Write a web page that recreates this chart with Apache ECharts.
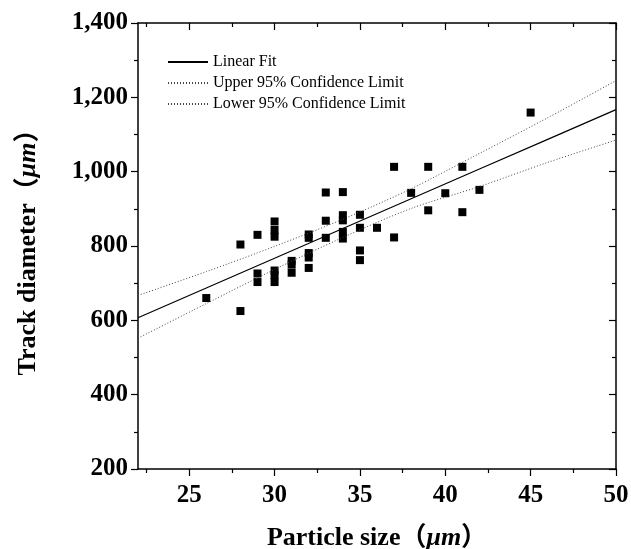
<!DOCTYPE html>
<html lang="en">
<head>
    <meta charset="UTF-8">
    <title>Track diameter vs particle size</title>
    <script src="https://cdn.jsdelivr.net/npm/echarts@6/dist/echarts.min.js"></script>
    <style>
        * { margin: 0; padding: 0; }
        html, body { width: 100%; height: 100%; overflow: hidden; background: #fff; }
        .box { width: 631px; height: 549px; }
    </style>
</head>
<body>
<div class="box"></div>
<script>
    // measured points
    let particleSize = [26, 28, 28, 29, 29, 29, 30, 30, 30, 30, 30, 30, 31, 31, 31,
        32, 32, 32, 32, 32, 33, 33, 33, 34, 34, 34, 34, 34, 35, 35, 35, 35, 36,
        37, 37, 38, 39, 39, 40, 41, 41, 42, 45];
    let trackDiameter = [660, 625, 804, 830, 726, 703, 866, 843, 825, 734, 722, 703, 760, 750, 728,
        831, 822, 781, 769, 741, 944, 868, 822, 945, 883, 869, 838, 820, 884, 849, 788, 762, 849,
        1013, 823, 943, 1013, 896, 942, 1013, 891, 951, 1159];

    // fit and confidence limits
    let lineX = [22, 26, 30, 34, 38, 42, 46, 50];
    let linearFit = [607, 687, 767, 847, 927, 1007, 1087, 1167];
    let upperLimit = [667, 731, 799, 872, 954, 1049, 1145, 1245];
    let lowerLimit = [552, 645, 737, 823, 901, 960, 1025, 1085];

    let xMajor = [25, 30, 35, 40, 45, 50];
    let xMinor = [22.5, 27.5, 32.5, 37.5, 42.5, 47.5];

    let chart = echarts.init(document.querySelector('.box'));
    let serif = "'Liberation Serif', 'Noto Sans CJK SC'";
    let black = '#000';

    let pair = (xs, ys) => xs.map((x, i) => [x, ys[i]]);

    function xAxisOf(pos, ticks, len, inside, labels, line) {
        return {
            type: 'value', position: pos, min: 22, max: 50,
            axisLine: { show: line, onZero: false, lineStyle: { color: black, width: 1.5 } },
            axisTick: { show: true, customValues: ticks, inside: inside, length: len,
                lineStyle: { color: black, width: 1.2 } },
            axisLabel: { show: labels, customValues: xMajor, margin: 14,
                fontFamily: serif, fontWeight: 'bold', fontSize: 25, color: black },
            splitLine: { show: false }
        };
    }

    let nameStyle = {
        rich: {
            a: { fontFamily: serif, fontWeight: 'bold', fontSize: 26, color: black },
            b: { fontFamily: serif, fontWeight: 'bold', fontStyle: 'italic', fontSize: 26, color: black }
        }
    };

    let xAxis = [
        xAxisOf('bottom', xMajor, 7, false, true, true),
        xAxisOf('bottom', xMinor, 4, false, false, false),
        xAxisOf('top', xMajor, 7, true, false, true),
        xAxisOf('top', xMinor, 4, true, false, false)
    ];
    xAxis[0].name = '{a|Particle size（}{b|μm}{a|）}';
    xAxis[0].nameLocation = 'middle';
    xAxis[0].nameGap = 56;
    xAxis[0].nameTextStyle = nameStyle;

    function yAxisOf(pos, inside, labels) {
        return {
            type: 'value', position: pos, min: 200, max: 1400, interval: 200,
            axisLine: { show: true, onZero: false, lineStyle: { color: black, width: 1.5 } },
            axisTick: { show: true, inside: inside, length: 7, lineStyle: { color: black, width: 1.2 } },
            minorTick: { show: true, splitNumber: 2, length: 4, lineStyle: { color: black, width: 1.2 } },
            axisLabel: { show: labels, margin: 10, fontFamily: serif, fontWeight: 'bold', fontSize: 25, color: black,
                formatter: v => v.toLocaleString('en-US') },
            splitLine: { show: false },
            minorSplitLine: { show: false }
        };
    }

    let yAxis = [yAxisOf('left', false, true), yAxisOf('right', true, false)];
    yAxis[0].name = '{a|Track diameter（}{b|μm}{a|）}';
    yAxis[0].nameLocation = 'middle';
    yAxis[0].nameGap = 97;
    yAxis[0].nameTextStyle = nameStyle;

    let dotted = { color: '#444', width: 1, type: [1, 2] };

    let option = {
        backgroundColor: '#fff',
        animation: false,
        grid: { left: 138, right: 15, top: 23, bottom: 80, outerBoundsMode: 'none' },
        legend: {
            orient: 'vertical', left: 162, top: 49, itemGap: 5,
            itemWidth: 40, itemHeight: 12,
            itemStyle: { opacity: 0 },
            data: ['Linear Fit', 'Upper 95% Confidence Limit', 'Lower 95% Confidence Limit'],
            textStyle: { fontFamily: serif, fontSize: 16, color: black }
        },
        xAxis,
        yAxis,
        series: [
            {
                name: 'Linear Fit', type: 'line', symbol: 'none', data: pair(lineX, linearFit),
                lineStyle: { color: black, width: 1.2 }, itemStyle: { color: black }
            },
            {
                name: 'Upper 95% Confidence Limit', type: 'line', symbol: 'none', smooth: 0.3,
                data: pair(lineX, upperLimit), lineStyle: dotted, itemStyle: { color: '#444' }
            },
            {
                name: 'Lower 95% Confidence Limit', type: 'line', symbol: 'none', smooth: 0.3,
                data: pair(lineX, lowerLimit), lineStyle: dotted, itemStyle: { color: '#444' }
            },
            {
                name: 'data', type: 'scatter', symbol: 'rect', symbolSize: 8,
                data: pair(particleSize, trackDiameter), itemStyle: { color: black, opacity: 1 }
            }
        ]
    };
    chart.setOption(option);
</script>
</body>
</html>
